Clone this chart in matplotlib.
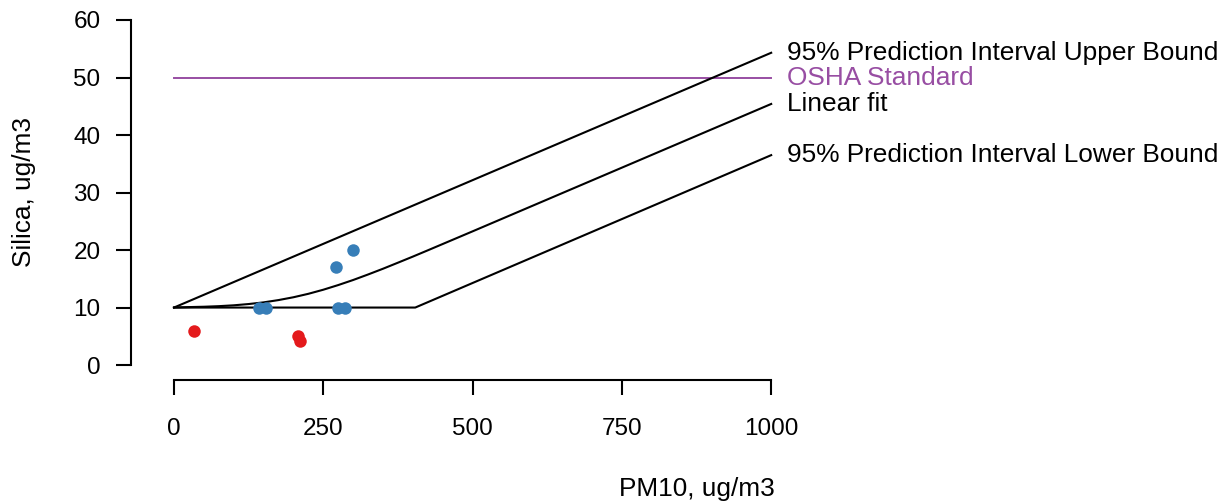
import matplotlib
matplotlib.use("Agg")
import matplotlib.pyplot as plt

plt.rcParams["font.family"] = ["Liberation Sans", "DejaVu Sans"]

# observations (PM10 vs silica), split by group colour
red_pm10 = [34, 208, 211]
red_silica = [6, 5, 4.1]
blue_pm10 = [142, 154, 274, 286, 272, 299]
blue_silica = [10, 10, 10, 10, 17, 20]

# fitted lines
upper_x = [0, 1000]
upper_y = [10, 54.3]
lower_x = [0, 404, 1000]
lower_y = [10, 10, 36.5]
fit_x = [0, 25, 50, 75, 100, 125, 150, 175, 200, 225, 250, 275, 300, 325,
         350, 375, 400, 425, 450, 475, 500, 600, 700, 800, 900, 1000]
fit_y = [10.0, 10.08, 10.14, 10.24, 10.39, 10.61, 10.9, 11.3, 11.79, 12.39,
         13.1, 13.91, 14.79, 15.75, 16.75, 17.8, 18.86, 19.95, 21.05, 22.15,
         23.25, 27.68, 32.11, 36.54, 40.97, 45.4]
osha_x = [0, 1000]
osha_y = [50, 50]

line_labels = ["95% Prediction Interval Upper Bound", "OSHA Standard",
               "Linear fit", "95% Prediction Interval Lower Bound"]
label_y = [upper_y[-1], osha_y[-1], fit_y[-1], lower_y[-1]]
label_colors = ["black", "#984EA3", "black", "black"]

xticks = [0, 250, 500, 750, 1000]
yticks = [0, 10, 20, 30, 40, 50, 60]

TICK_FS = 17.5
LAB_FS = 18.9
fig = plt.figure(figsize=(12.23, 5.03), dpi=100, facecolor="white")
ax = fig.add_axes([0.1071, 0.2445, 0.543, 0.7432])

ax.plot(osha_x, osha_y, color="#984EA3", lw=1.4)
ax.plot(upper_x, upper_y, color="black", lw=1.5)
ax.plot(fit_x, fit_y, color="black", lw=1.5)
ax.plot(lower_x, lower_y, color="black", lw=1.5)
ax.plot(blue_pm10, blue_silica, "o", color="#377EB8", ms=9, mec="none")
ax.plot(red_pm10, red_silica, "o", color="#E41A1C", ms=9, mec="none")

for txt, yv, c in zip(line_labels, label_y, label_colors):
    ax.text(1027, yv, txt, color=c, fontsize=LAB_FS, va="center", ha="left",
            clip_on=False)

ax.set_xlim(-72, 1040)
ax.set_ylim(-2.6, 62.4)
for s in ["top", "right"]:
    ax.spines[s].set_visible(False)
ax.spines["left"].set_bounds(0, 60)
ax.spines["bottom"].set_bounds(0, 1000)
for s in ["left", "bottom"]:
    ax.spines[s].set_linewidth(1.5)
ax.set_xticks(xticks)
ax.set_yticks(yticks)
ax.tick_params(length=11, width=1.5, labelsize=TICK_FS, pad=16)
ax.tick_params(axis="y", pad=11)

fig.text(697 / 1223, 1 - 496 / 503, "PM10, ug/m3", ha="center", va="baseline",
         fontsize=LAB_FS)
fig.text(24 / 1223, 1 - 192 / 503, "Silica, ug/m3", ha="center", va="center",
         rotation=90, fontsize=LAB_FS)

fig.savefig("out.png", dpi=100, facecolor="white")
